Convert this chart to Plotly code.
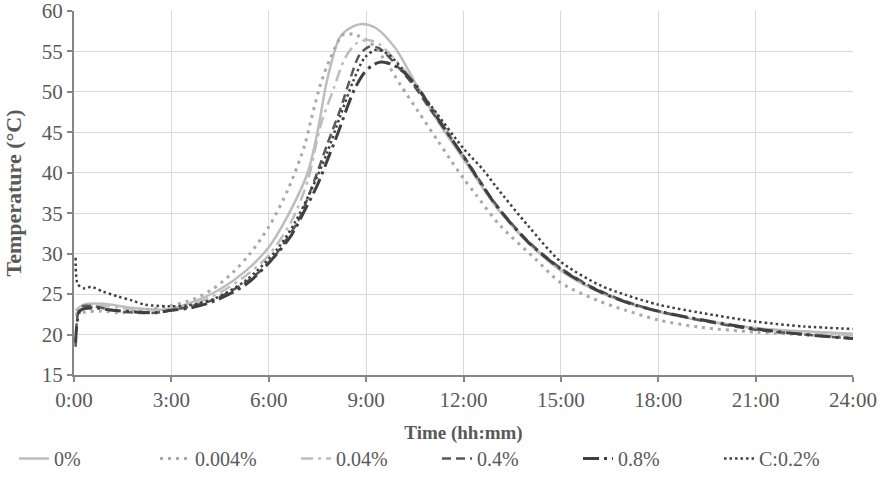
import plotly.graph_objects as go

# Time in hours, temperature in °C
t_0 = [0.05,0.3,0.9,1.8,2.8,3.5,4.5,5.3,6.0,6.6,7.2,7.5,7.8,8.2,8.6,8.9,9.3,9.9,10.6,11.3,12.0,13.0,14.0,15.0,16.0,17.0,18.0,19.5,21.0,22.5,24.0]
T_0 = [23.0,23.7,23.8,23.3,23.1,23.8,25.6,27.9,30.8,34.8,40.0,45.0,51.5,56.8,58.1,58.4,57.9,55.4,50.5,45.8,41.7,35.8,31.3,27.9,25.6,24.0,22.8,21.6,20.8,20.4,20.1]

t_0004 = [0.05,0.25,0.85,1.4,2.2,3.0,3.7,4.3,4.9,5.4,6.0,6.6,7.1,7.3,7.6,7.9,8.3,8.7,9.1,9.6,10.05,10.6,11.2,11.6,12.0,12.4,13.1,14.2,15.0,16.2,17.0,18.0,19.3,21.0,22.5,24.0]
T_0004 = [22.3,22.7,22.9,22.7,23.0,23.6,24.4,25.7,27.7,29.9,33.3,38.0,43.3,46.5,51.0,54.2,57.1,57.0,56.2,53.8,50.9,47.6,44.0,41.6,39.3,37.2,33.6,29.4,26.4,24.1,23.0,21.8,20.9,20.3,20.0,19.7]

t_004 = [0.05,0.3,1.0,2.0,3.0,3.7,4.5,5.3,6.0,6.7,7.2,7.6,8.0,8.35,8.7,9.06,9.4,10.0,10.6,11.3,12.0,13.0,14.0,15.0,16.0,17.0,18.0,19.5,21.0,22.5,24.0]
T_004 = [22.5,23.3,23.5,23.0,23.2,23.8,25.2,27.3,29.8,34.0,39.0,45.9,50.4,54.2,56.0,56.4,55.9,53.5,50.5,46.5,42.0,36.0,31.4,28.0,25.7,24.1,22.9,21.7,20.8,20.3,19.9]

t_04 = [0.05,0.2,0.6,1.2,1.9,2.5,3.0,3.6,4.3,5.3,6.0,6.5,6.9,7.4,7.8,8.2,8.5,8.8,9.1,9.4,10.0,10.5,11.0,12.0,13.0,14.0,15.0,16.0,17.0,18.0,19.5,21.0,22.5,24.0]
T_04 = [18.5,23.4,23.5,23.0,22.7,22.7,23.0,23.5,24.3,26.5,28.8,31.5,34.0,39.0,43.5,47.8,51.5,54.6,55.6,55.4,53.0,50.6,47.7,42.1,36.1,31.5,28.2,25.8,24.1,22.9,21.6,20.6,20.0,19.5]

t_08 = [0.05,0.2,0.6,1.2,1.9,2.5,3.0,3.6,4.3,5.3,6.1,6.7,7.1,7.5,7.8,8.15,8.4,8.65,8.95,9.2,9.45,9.8,10.2,10.6,11.0,12.0,13.0,14.0,15.0,16.0,17.0,18.0,19.5,21.0,22.5,24.0]
T_08 = [19.0,23.0,23.3,23.0,22.8,22.7,23.0,23.3,24.1,26.2,29.3,32.3,35.3,38.5,41.5,45.1,47.9,50.4,52.4,53.3,53.7,53.4,52.3,50.5,48.0,42.0,36.0,31.4,28.1,25.7,24.0,22.9,21.7,20.7,20.0,19.5]

t_c02 = [0.05,0.12,0.33,0.53,0.9,1.36,1.8,2.18,2.9,3.5,4.3,5.3,6.25,6.8,7.3,7.8,8.2,8.6,8.95,9.3,9.7,10.1,10.46,11.07,12.0,12.6,13.0,14.0,15.0,16.2,17.0,18.0,19.3,21.0,22.5,24.0]
T_c02 = [29.5,26.2,25.7,25.9,25.3,24.7,24.2,23.7,23.5,23.6,24.4,26.7,30.5,33.8,37.8,42.5,47.0,51.3,54.2,55.2,54.6,52.9,51.0,47.9,43.0,40.4,38.3,33.4,29.0,26.1,24.9,23.7,22.7,21.6,21.0,20.7]

x_ticks = [0, 3, 6, 9, 12, 15, 18, 21, 24]
x_labels = ["0:00", "3:00", "6:00", "9:00", "12:00", "15:00", "18:00", "21:00", "24:00"]

series = [
    ("0%", t_0, T_0, "#bdbdbd", "solid", 2.5),
    ("0.004%", t_0004, T_0004, "#a9a9a9", "3px,5px", 3),
    ("0.04%", t_004, T_004, "#bdbdbd", "12px,5px,3px,5px", 2.5),
    ("0.4%", t_04, T_04, "#595959", "9px,5px", 2.5),
    ("0.8%", t_08, T_08, "#404040", "16px,5px,3px,5px", 3),
    ("C:0.2%", t_c02, T_c02, "#404040", "2.5px,3px", 2.5),
]

fig = go.Figure()
for name, t, T, color, dash, w in series:
    fig.add_trace(go.Scatter(
        x=t, y=T, name=name, mode="lines",
        line=dict(color=color, dash=dash, width=w, shape="spline", smoothing=0.8),
    ))

font_family = "Liberation Serif, Times New Roman, serif"
fig.update_layout(
    width=881, height=489,
    margin=dict(l=74, r=28, t=11, b=107),
    paper_bgcolor="white", plot_bgcolor="white",
    font=dict(family=font_family, size=21, color="#595959"),
    showlegend=True,
    legend=dict(orientation="h", x=-0.077, xanchor="left", y=-0.283, yanchor="bottom",
                entrywidth=96, entrywidthmode="pixels",
                font=dict(family=font_family, size=20, color="#595959"),
                itemwidth=30, tracegroupgap=0),
    xaxis=dict(
        range=[0, 24], tickvals=x_ticks, ticktext=x_labels,
        showgrid=True, gridcolor="#d9d9d9", gridwidth=1,
        showline=True, linecolor="#868686", linewidth=2,
        ticks="outside", ticklen=5, tickcolor="#868686", tickwidth=1.5,
        zeroline=False, automargin=False, ticklabeloverflow="allow",
        tickfont=dict(family=font_family, size=21, color="#595959"),
        title=dict(text="<b>Time (hh:mm)</b>", standoff=14,
                   font=dict(family=font_family, size=19, color="#595959")),
    ),
    yaxis=dict(
        range=[15, 60], dtick=5,
        showgrid=True, gridcolor="#d9d9d9", gridwidth=1,
        showline=True, linecolor="#868686", linewidth=2,
        ticks="outside", ticklen=5, tickcolor="#868686", tickwidth=1.5,
        zeroline=False, automargin=False, ticklabeloverflow="allow",
        tickfont=dict(family=font_family, size=21, color="#595959"),
        title=dict(text="<b>Temperature (°C)</b>", standoff=14,
                   font=dict(family=font_family, size=22, color="#595959")),
    ),
)

fig.write_html("out.html")
